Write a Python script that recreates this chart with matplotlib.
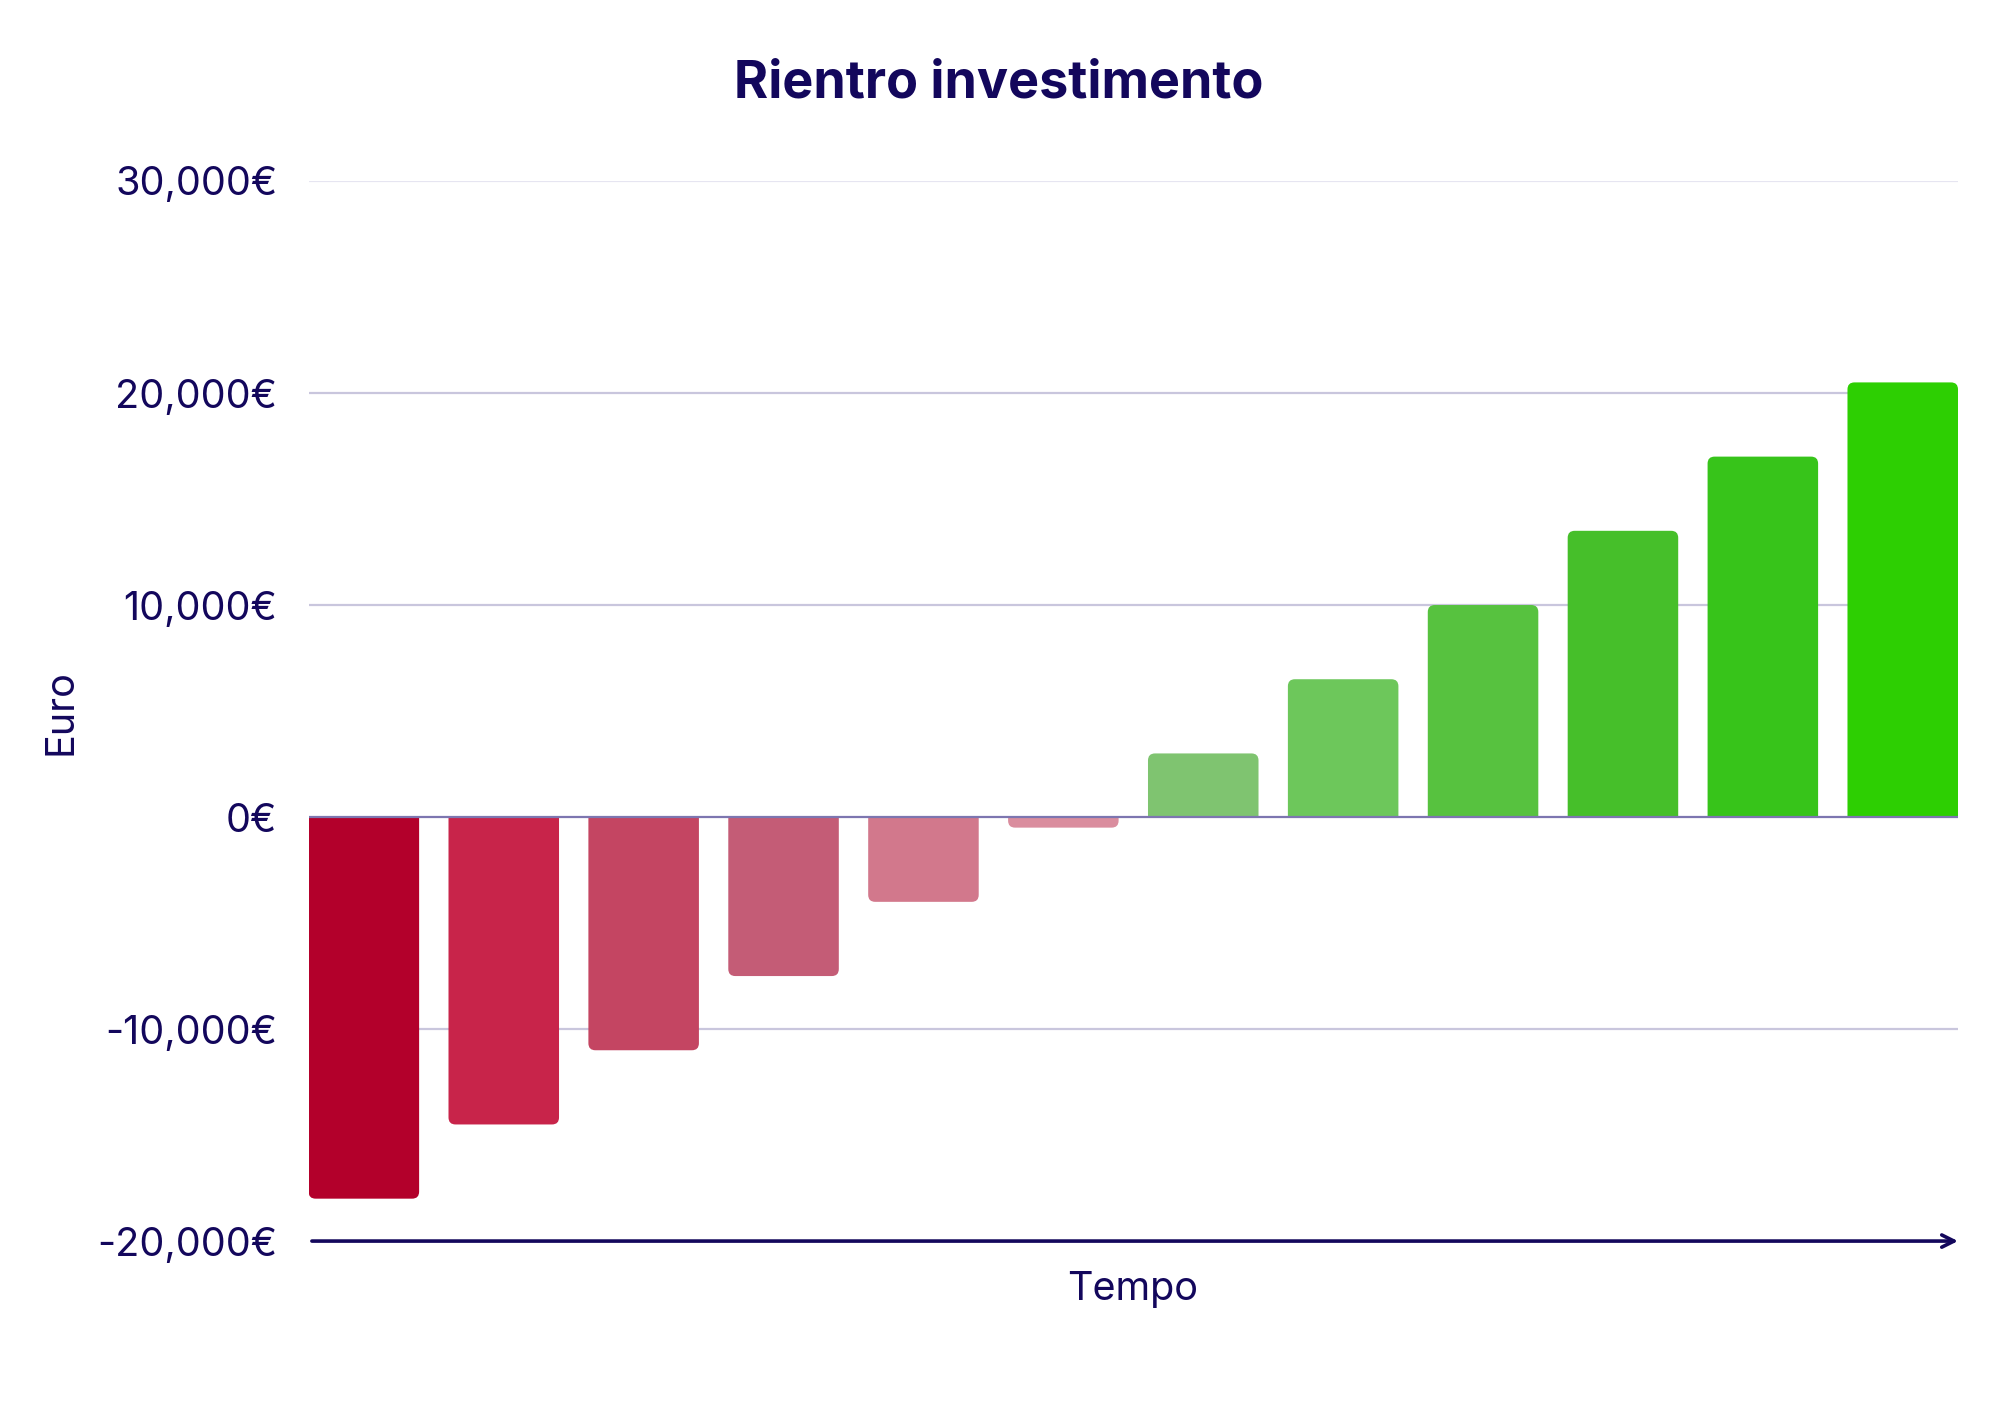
import numpy as np
import matplotlib
matplotlib.use("Agg")
import matplotlib.pyplot as plt
from matplotlib.path import Path
from matplotlib.patches import PathPatch

# data
periods = list(range(12))
values = [-18000, -14500, -11000, -7500, -4000, -500,
          3000, 6500, 10000, 13500, 17000, 20500]
bar_colors = ["#b3002b", "#c8244a", "#c44562", "#c45c76", "#d2788c", "#da8d9e",
              "#7fc470", "#6dc75b", "#57c23f", "#46bf2a", "#37c41a", "#2dcf02"]
yticks = [-20000, -10000, 0, 10000, 20000, 30000]
ytick_labels = ["-20,000€", "-10,000€", "0€", "10,000€", "20,000€", "30,000€"]

navy = "#13075c"
plt.rcParams["font.family"] = ["Inter", "DejaVu Sans"]

fig = plt.figure(figsize=(20, 14.14), dpi=100)
ax = fig.add_axes([0.1543, 0.1223, 0.8247, 0.7497])

w = 0.79
ax.set_xlim(-w / 2, periods[-1] + w / 2)
ax.set_ylim(-20000, 30000)

bars = ax.bar(periods, values, width=w, color=bar_colors, linewidth=0, zorder=2)


def rounded_end(x, width, v, rx, ry):
    # square at the base (0), rounded corners at the outer end
    ry = min(ry, abs(v)) * (1 if v >= 0 else -1)
    verts = [(x, 0), (x, v - ry), (x, v), (x + rx, v), (x + width - rx, v),
             (x + width, v), (x + width, v - ry), (x + width, 0), (x, 0)]
    codes = [Path.MOVETO, Path.LINETO, Path.CURVE3, Path.CURVE3, Path.LINETO,
             Path.CURVE3, Path.CURVE3, Path.LINETO, Path.CLOSEPOLY]
    return Path(verts, codes)


# swap each bar rectangle for the same shape with rounded outer corners
fig.canvas.draw()
bb = ax.get_window_extent()
x0, x1 = ax.get_xlim()
y0, y1 = ax.get_ylim()
rx = 7 * (x1 - x0) / bb.width
ry = 7 * (y1 - y0) / bb.height
for rect, c in zip(bars, bar_colors):
    rect.set_visible(False)
    p = rounded_end(rect.get_x(), rect.get_width(), rect.get_height(), rx, ry)
    ax.add_patch(PathPatch(p, fc=c, ec="none", lw=0, zorder=2))

ax.set_yticks(yticks)
ax.set_yticklabels(ytick_labels)
ax.set_xticks([])
ax.tick_params(axis="y", length=0, pad=22.5, labelsize=28.5, labelcolor=navy)

ax.grid(axis="y", color="#c9c6dd", linewidth=1.6, zorder=0)
for t, gl in zip(ax.get_yticks(), ax.get_ygridlines()):
    if t == 30000:
        gl.set_color("#e6e5f1")
    if t in (0, -20000):
        gl.set_visible(False)
ax.set_axisbelow(True)
for s in ax.spines.values():
    s.set_visible(False)

ax.axhline(0, color="#7d76b0", linewidth=1.6, zorder=3)

# time axis arrow
ax.annotate("", xy=(1.0, -20000), xytext=(0.002, -20000),
            xycoords=("axes fraction", "data"), textcoords=("axes fraction", "data"),
            arrowprops=dict(arrowstyle="->", color=navy, lw=2.6, mutation_scale=22,
                            shrinkA=0, shrinkB=0),
            annotation_clip=False)

fig.text(0.4995, 0.9314, "Rientro investimento", ha="center", va="baseline",
         fontsize=37.5, fontweight="bold", color=navy)
fig.text(0.5665, 0.0806, "Tempo", ha="center", va="baseline", fontsize=28.5, color=navy)
fig.text(0.0305, 0.4965, "Euro", ha="center", va="center", rotation=90,
         fontsize=28.5, color=navy)

fig.savefig("out.png", dpi=100, facecolor="white")
